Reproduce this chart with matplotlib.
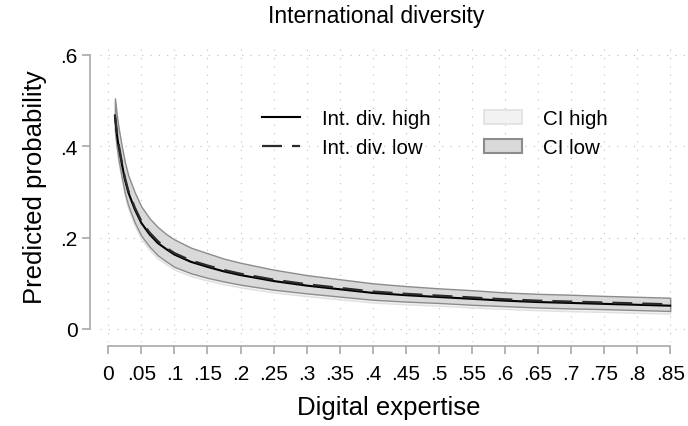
import matplotlib
matplotlib.use("Agg")
import matplotlib.pyplot as plt
from matplotlib.patches import Patch
from matplotlib.lines import Line2D

plt.rcParams['font.family'] = ['Liberation Sans', 'DejaVu Sans']

# digital expertise values
x = [.01, .0125, .015, .02, .025, .03, .04, .05, .0625, .075, .0875, .1, .125, .15, .175,
     .2, .25, .3, .35, .4, .45, .5, .55, .6, .65, .7, .75, .8, .85]

# predicted probability, international diversity high / low
p_high = [.465, .432, .405, .365, .328, .300, .262, .232, .207, .188, .175, .163, .147, .136, .126,
          .118, .105, .095, .087, .079, .074, .070, .066, .062, .059, .057, .055, .053, .051]
p_low = [.470, .437, .410, .369, .332, .304, .266, .236, .211, .192, .178, .166, .150, .139, .129,
         .121, .108, .098, .090, .082, .077, .073, .069, .065, .062, .060, .058, .056, .054]

# confidence intervals
ci_high_hi = [.501, .468, .441, .400, .363, .334, .296, .265, .239, .220, .206, .194, .176, .164, .152,
              .143, .128, .116, .107, .098, .092, .087, .083, .078, .075, .073, .0705, .0685, .0665]
ci_high_lo = [.427, .394, .367, .328, .291, .264, .226, .197, .173, .154, .142, .130, .116, .106, .098,
              .091, .080, .072, .065, .058, .054, .051, .047, .044, .041, .039, .0375, .0355, .0335]
ci_low_hi = [.505, .472, .445, .403, .366, .337, .299, .268, .242, .223, .208, .196, .178, .166, .154,
             .145, .130, .118, .109, .100, .094, .089, .085, .080, .077, .075, .0725, .0705, .0685]
ci_low_lo = [.435, .402, .375, .335, .298, .271, .233, .204, .180, .161, .148, .136, .122, .112, .104,
             .097, .086, .078, .071, .064, .060, .057, .053, .050, .047, .045, .0435, .0415, .0395]

xticks = [0, .05, .1, .15, .2, .25, .3, .35, .4, .45, .5, .55, .6, .65, .7, .75, .8, .85]
xticklabels = ['0', '.05', '.1', '.15', '.2', '.25', '.3', '.35', '.4', '.45', '.5', '.55',
               '.6', '.65', '.7', '.75', '.8', '.85']
yticks = [0, .2, .4, .6]
yticklabels = ['0', '.2', '.4', '.6']

W, H = 688, 427
fig = plt.figure(figsize=(W / 100, H / 100), dpi=100)
ax = fig.add_axes([100 / W, (H - 343) / H, 588 / W, 298 / H])

axcol = '#a0a0a0'
ax.fill_between(x, ci_high_lo, ci_high_hi, facecolor='#f2f2f2', edgecolor='#e0e0e0', lw=1, zorder=2)
ax.fill_between(x, ci_low_lo, ci_low_hi, facecolor='#d9d9d9', edgecolor='#8c8c8c', lw=1, zorder=3)
ax.plot(x, p_high, color='black', lw=1.5, zorder=4)
ax.plot(x, p_low, color='#2a2a2a', lw=1.6, dashes=(9, 4.5), zorder=5)

ax.set_xlim(-0.0126, 0.877)
ax.set_ylim(-0.0285, 0.624)

for s in ['top', 'right']:
    ax.spines[s].set_visible(False)
ax.spines['left'].set_position(('outward', 7.2))
ax.spines['bottom'].set_position(('outward', 3))
ax.spines['left'].set_bounds(0, .6)
ax.spines['bottom'].set_bounds(0, .85)
for s in ['left', 'bottom']:
    ax.spines[s].set_color(axcol)
    ax.spines[s].set_linewidth(1.1)

ax.set_xticks(xticks)
ax.set_xticklabels(xticklabels)
ax.set_yticks(yticks)
ax.set_yticklabels(yticklabels)
ax.tick_params(axis='both', colors=axcol, labelcolor='black', length=6, width=1.1, labelsize=15)
ax.tick_params(axis='x', pad=7)
ax.tick_params(axis='y', pad=3)

ax.grid(True, color='#bdbdbd', lw=0.8, linestyle=(0, (1, 6.5)))
ax.set_axisbelow(True)

fig.text(376 / W, 1 - 17 / H, 'International diversity', ha='center', va='center', fontsize=16.5)
fig.text(389 / W, 1 - 408 / H, 'Digital expertise', ha='center', va='center', fontsize=18.5)
fig.text(35 / W, 1 - 187 / H, 'Predicted probability', ha='center', va='center',
         rotation=90, fontsize=18.5)

handles = [Line2D([], [], color='black', lw=1.5),
           Line2D([], [], color='#2a2a2a', lw=1.6, dashes=(9, 4.5)),
           Patch(facecolor='#f2f2f2', edgecolor='#e0e0e0', lw=1.2),
           Patch(facecolor='#d9d9d9', edgecolor='#8c8c8c', lw=1.5)]
labels = ['Int. div. high', 'Int. div. low', 'CI high', 'CI low']
fig.legend(handles, labels, ncol=2, loc='upper left', bbox_to_anchor=(262 / W, 1 - 110 / H),
           frameon=False, fontsize=14.8, handlelength=1.85, handletextpad=1.05,
           columnspacing=2.6, labelspacing=0.5, borderpad=0, borderaxespad=0)

fig.savefig('out.png', dpi=100, facecolor='white')
